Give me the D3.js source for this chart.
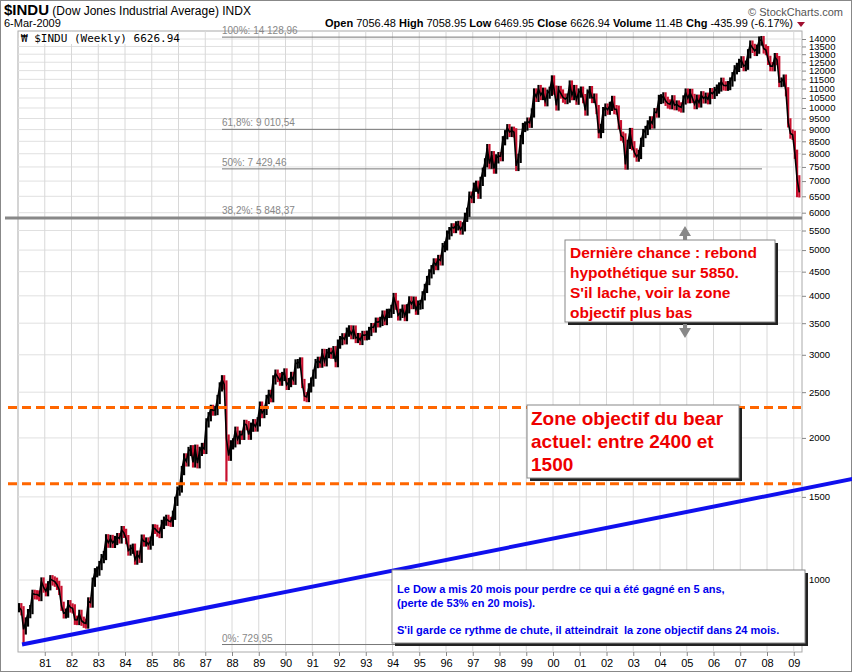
<!DOCTYPE html>
<html><head><meta charset="utf-8">
<script src="https://cdn.jsdelivr.net/npm/d3@7"></script>
<style>body{margin:0;background:#fff}svg{font-family:"Liberation Sans",Arial,sans-serif}</style>
</head><body><svg id="c" width="852" height="672"></svg>
<script>
const startYear = 1980;
const monthlyClose = [
876,863,786,817,851,868,935,933,932,925,993,964,
947,975,1004,998,992,977,953,882,850,853,889,875,
871,824,823,848,820,812,809,901,896,992,1039,1047,
1076,1113,1130,1226,1200,1222,1199,1216,1233,1225,1276,1259,
1221,1155,1165,1171,1105,1132,1115,1224,1207,1207,1189,1212,
1287,1284,1267,1258,1315,1336,1348,1334,1329,1375,1472,1547,
1571,1710,1819,1784,1877,1893,1775,1898,1768,1878,1914,1896,
2158,2224,2305,2286,2292,2419,2572,2663,2596,1994,1834,1939,
1958,2072,1988,2032,2031,2142,2129,2032,2113,2149,2115,2169,
2342,2258,2294,2419,2480,2440,2661,2737,2693,2645,2706,2753,
2591,2627,2707,2657,2877,2881,2905,2615,2453,2442,2560,2634,
2737,2882,2914,2888,3028,2907,3025,3044,3017,3069,2895,3169,
3224,3268,3236,3359,3397,3319,3394,3257,3272,3226,3306,3301,
3310,3371,3435,3428,3527,3516,3540,3651,3555,3681,3684,3754,
3978,3832,3636,3682,3758,3625,3765,3913,3843,3908,3739,3834,
3844,4011,4158,4321,4465,4556,4709,4647,4789,4756,5075,5117,
5395,5486,5588,5569,5643,5655,5529,5616,5882,6029,6522,6448,
6813,6878,6584,7009,7331,7673,8223,7622,7945,7442,7823,7908,
7907,8546,8800,9063,8900,8952,8883,7539,7843,8592,9117,9181,
9359,9307,9786,10789,10560,10971,10655,10829,10337,10729,10878,11497,
10941,10128,10922,10734,10522,10448,10522,11215,10651,10971,10415,10787,
10887,10495,9879,10735,10912,10502,10523,9950,8848,9075,9852,10022,
9920,10106,10404,9946,9925,9243,8737,8664,7592,8397,8896,8342,
8054,7891,7992,8480,8850,8985,9234,9416,9275,9801,9782,10454,
10488,10584,10358,10226,10188,10435,10140,10174,10080,10027,10428,10783,
10490,10766,10504,10193,10467,10275,10641,10482,10569,10440,10806,10718,
10865,10993,11109,11367,11168,11150,11186,11381,11679,12081,12222,12463,
12622,12269,12354,13063,13628,13409,13212,13358,13896,13930,13372,13265,
12650,12266,12263,12820,12638,11350,11378,11544,10851,9325,8829,8776,
8001,7063,6627];
const monthlyLow = {93:1616, 349:6470, 2:730};
const yTicks = [1000,1500,2000,2500,3000,3500,4000,4500,5000,5500,6000,6500,7000,7500,8000,8500,9000,9500,10000,10500,11000,11500,12000,12500,13000,13500,14000];
const xYears = d3.range(1981,2010);
const fibLevels = [{v:14128.96,l:"100%: 14 128,96"},{v:9010.54,l:"61,8%: 9 010,54"},{v:7429.46,l:"50%: 7 429,46"},{v:729.95,l:"0%: 729,95"}];
const fib382 = {v:5848.37,l:"38,2%: 5 848,37"};
const zoneLevels = [2320,1600];
const trendPts = [[1980.15,730],[2011.25,1640]];

const svg=d3.select("#c");
const L=18,R=802,T=31,B=652;
const x=d3.scaleLinear().domain([1982,1984]).range([71.5,125]);
const y=d3.scaleLog().domain([1000,14000]).range([580,39]);

svg.append("rect").attr("x",0.5).attr("y",0.5).attr("width",851).attr("height",671).attr("fill","#fff").attr("stroke","#888");
svg.append("rect").attr("x",L).attr("y",T).attr("width",R-L).attr("height",B-T).attr("fill","#fff").attr("stroke","#aaa");
svg.append("g").selectAll("line").data(yTicks).join("line").attr("x1",L).attr("x2",R).attr("y1",d=>y(d)).attr("y2",d=>y(d)).attr("stroke","#e0e0e0");
svg.append("g").selectAll("line").data(xYears).join("line").attr("x1",d=>x(d)).attr("x2",d=>x(d)).attr("y1",T).attr("y2",B).attr("stroke","#d8d8d8");
const ya=d3.axisRight(y).tickValues(yTicks).tickFormat(d3.format("d")).tickSize(4);
const gy=svg.append("g").attr("transform",`translate(${R},0)`).call(ya);
gy.select(".domain").remove();
gy.selectAll("text").attr("font-size",9.5).attr("fill","#000").attr("dy","0.3em").attr("font-family","Liberation Sans,Arial");
gy.selectAll("line").attr("stroke","#888");
const xa=d3.axisBottom(x).tickValues(xYears).tickFormat(d=>String(d).slice(2)).tickSize(4);
const gx=svg.append("g").attr("transform",`translate(0,${B})`).call(xa);
gx.select(".domain").remove();
gx.selectAll("text").attr("font-size",11).attr("fill","#000").attr("font-family","Liberation Sans,Arial");
gx.selectAll("line").attr("stroke","#888");

const fg=svg.append("g");
fibLevels.forEach(f=>{
 fg.append("line").attr("x1",222).attr("x2",762).attr("y1",y(f.v)).attr("y2",y(f.v)).attr("stroke","#777");
 fg.append("text").attr("x",222).attr("y",y(f.v)-3).attr("font-size",10).attr("fill","#888").text(f.l);
});
fg.append("line").attr("x1",5).attr("x2",R).attr("y1",y(fib382.v)).attr("y2",y(fib382.v)).attr("stroke","#888").attr("stroke-width",3);
fg.append("text").attr("x",222).attr("y",y(fib382.v)-4).attr("font-size",10).attr("fill","#888").text(fib382.l);

const tm=i=>startYear+(i+0.5)/12;
const bars=svg.append("g");
monthlyClose.forEach((c,i)=>{
 const p=i>0?monthlyClose[i-1]:c;
 let lo=Math.min(p,c)*0.975, hi=Math.max(p,c)*1.02;
 if(monthlyLow[i]) lo=monthlyLow[i];
 bars.append("line").attr("x1",x(tm(i))).attr("x2",x(tm(i))).attr("y1",y(lo)).attr("y2",y(hi))
  .attr("stroke",c<p?"#c8102e":"#000").attr("stroke-width",2.2);
});
svg.append("path").datum(monthlyClose).attr("fill","none").attr("stroke","#000").attr("stroke-width",1.6)
 .attr("d",d3.line().x((d,i)=>x(tm(i))).y(d=>y(d)));

svg.append("g").selectAll("line").data(zoneLevels).join("line").attr("x1",8).attr("x2",R).attr("y1",d=>y(d)).attr("y2",d=>y(d))
 .attr("stroke","#ff6600").attr("stroke-width",3).attr("stroke-dasharray","9,5");
svg.append("line").attr("x1",x(trendPts[0][0])).attr("y1",y(trendPts[0][1])).attr("x2",x(trendPts[1][0])).attr("y2",y(trendPts[1][1]))
 .attr("stroke","#1010ee").attr("stroke-width",4);

svg.append("text").attr("x",4).attr("y",15).attr("font-size",15).attr("font-weight","bold").text("$INDU")
 .append("tspan").attr("font-weight","normal").attr("font-size",12).text(" (Dow Jones Industrial Average) INDX");
svg.append("text").attr("x",4).attr("y",27).attr("font-size",11).text("6-Mar-2009");
svg.append("text").attr("x",793).attr("y",27).attr("font-size",11).attr("text-anchor","end")
 .html('<tspan font-weight="bold">Open</tspan> 7056.48 <tspan font-weight="bold">High</tspan> 7058.95 <tspan font-weight="bold">Low</tspan> 6469.95 <tspan font-weight="bold">Close</tspan> 6626.94 <tspan font-weight="bold">Volume</tspan> 11.4B <tspan font-weight="bold">Chg</tspan> -435.99 (-6.17%)');
svg.append("path").attr("d","M797,22 L805,22 L801,27 Z").attr("fill","#a01030");
svg.append("text").attr("x",843).attr("y",16).attr("font-size",11).attr("fill","#555").attr("text-anchor","end").text("© StockCharts.com");
svg.append("rect").attr("x",19).attr("y",32).attr("width",156).attr("height",12).attr("fill","#fff");
svg.append("text").attr("x",21).attr("y",42).attr("font-size",11).attr("font-family","DejaVu Sans Mono,monospace").text("₩ $INDU (Weekly) 6626.94");

function box(x0,y0,w,h){
 svg.append("rect").attr("x",x0+3).attr("y",y0+3).attr("width",w).attr("height",h).attr("fill","#222");
 svg.append("rect").attr("x",x0).attr("y",y0).attr("width",w).attr("height",h).attr("fill","#fff").attr("stroke","#888");
}
box(565,240,210,82);
["Dernière chance : rebond","hypothétique sur 5850.","S'il lache, voir la zone","objectif plus bas"].forEach((t,i)=>
 svg.append("text").attr("x",570).attr("y",258+i*20).attr("font-size",15.5).attr("font-weight","bold").attr("fill","#ee0000").text(t));
box(527,405,212,73);
["Zone objectif du bear","actuel: entre 2400 et","1500"].forEach((t,i)=>
 svg.append("text").attr("x",531).attr("y",425+i*23).attr("font-size",19).attr("font-weight","bold").attr("fill","#ee0000").text(t));
box(392,570,413,73);
["Le Dow a mis 20 mois pour perdre ce qui a été gagné en 5 ans,","(perte de 53% en 20 mois).","","S'il garde ce rythme de chute, il atteindrait  la zone objectif dans 24 mois."].forEach((t,i)=>
 svg.append("text").attr("x",397).attr("y",593+i*13.5).attr("font-size",11).attr("font-weight","bold").attr("fill","#0000ee").attr("xml:space","preserve").text(t));
svg.append("path").attr("d","M679,236 L685,226 L691,236 L687,236 L687,240 L683,240 L683,236 Z").attr("fill","#888");
svg.append("path").attr("d","M679,328 L685,338 L691,328 L687,328 L687,324 L683,324 L683,328 Z").attr("fill","#888");
</script></body></html>
